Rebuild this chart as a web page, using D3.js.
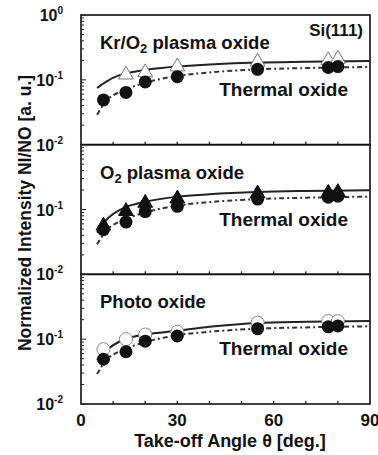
<!DOCTYPE html>
<html><head><meta charset="utf-8">
<script src="https://cdn.jsdelivr.net/npm/d3@7"></script>
<style>
body{margin:0;background:#fff;}
svg text{font-family:"Liberation Sans",Arial,sans-serif;font-weight:bold;fill:#111;}
</style></head>
<body><svg id="c" width="378" height="455"></svg>
<script>
// ---- data ----
const angles = [7, 14, 20, 30, 55, 77, 80];
const thermal = [0.049, 0.064, 0.093, 0.112, 0.145, 0.155, 0.16];
const krPlasma = [null, 0.12, 0.13, 0.16, 0.19, 0.2, 0.21];
const o2Plasma = [0.056, 0.094, 0.126, 0.147, 0.176, 0.18, 0.185];
const photo = [0.07, 0.1, 0.118, 0.13, 0.18, 0.19, 0.19];
const fitAngles = [5, 8, 12, 16, 20, 30, 40, 55, 70, 90];
const fitThermal = [0.029, 0.048, 0.065, 0.078, 0.09, 0.115, 0.13, 0.145, 0.152, 0.158];
const fitKr = [0.075, 0.095, 0.118, 0.132, 0.142, 0.16, 0.172, 0.185, 0.19, 0.195];
const fitO2 = [0.044, 0.07, 0.098, 0.118, 0.132, 0.158, 0.172, 0.186, 0.193, 0.198];
const fitPhoto = [0.048, 0.068, 0.092, 0.108, 0.118, 0.135, 0.155, 0.178, 0.185, 0.19];
const xTicks = [0, 30, 60, 90];
const yTickExp = [0, -1, -2];
const panels = [
  {label: "Kr/O", sub: "2", rest: " plasma oxide", series: krPlasma, fit: fitKr, marker: "openTri"},
  {label: "O", sub: "2", rest: " plasma oxide", series: o2Plasma, fit: fitO2, marker: "fillTri"},
  {label: "Photo oxide", sub: "", rest: "", series: photo, fit: fitPhoto, marker: "openCirc"}
];

const svg = d3.select("#c");
const L = 81, R = 370, T = 15, B = 404;
const ph = (B - T) / 3;
const x = d3.scaleLinear().domain([0, 90]).range([L, R]);

panels.forEach((p, i) => {
  const top = T + i * ph, bot = top + ph;
  const y = d3.scaleLog().domain([0.01, 1]).range([bot, top]);
  const g = svg.append("g");
  g.append("rect").attr("x", L).attr("y", top).attr("width", R - L).attr("height", ph)
    .attr("fill", "none").attr("stroke", "#111").attr("stroke-width", 1.6);
  const yt = [];
  for (let e = -2; e < 0; e++) for (let m = 1; m < 10; m++) yt.push(m * Math.pow(10, e));
  yt.push(1);
  g.selectAll(".yt").data(yt).enter().append("line")
    .attr("x1", L).attr("x2", d => (Math.abs(Math.log10(d) - Math.round(Math.log10(d))) < 1e-6) ? L + 5 : L + 3)
    .attr("y1", d => y(d)).attr("y2", d => y(d)).attr("stroke", "#222").attr("stroke-width", 1);
  g.selectAll(".xt").data(d3.range(10, 90, 10)).enter().append("line")
    .attr("x1", d => x(d)).attr("x2", d => x(d)).attr("y1", bot).attr("y2", bot - 3)
    .attr("stroke", "#222").attr("stroke-width", 1.3);
  const exps = i === 0 ? yTickExp : yTickExp.slice(1);
  exps.forEach(e => {
    const t = g.append("text").attr("x", 63).attr("y", y(Math.pow(10, e)) + 6)
      .attr("text-anchor", "end").attr("font-size", 16);
    t.append("tspan").text("10");
    t.append("tspan").attr("dy", -7).attr("font-size", 10).text(e === 0 ? "0" : "-" + (-e));
  });
  const line = d3.line().x((d, k) => x(fitAngles[k])).y(d => y(d)).curve(d3.curveMonotoneX);
  g.append("path").datum(fitThermal).attr("d", line).attr("fill", "none")
    .attr("stroke", "#333").attr("stroke-width", 2).attr("stroke-dasharray", "5,3,2,3");
  g.append("path").datum(p.fit).attr("d", line).attr("fill", "none")
    .attr("stroke", "#222").attr("stroke-width", 2);
  const pts = angles.map((a, k) => ({a, v: p.series[k]})).filter(d => d.v != null);
  const tri = d3.symbol().type(d3.symbolTriangle).size(95);
  if (p.marker === "openCirc") {
    g.selectAll(".oc").data(pts).enter().append("circle")
      .attr("cx", d => x(d.a)).attr("cy", d => y(d.v)).attr("r", 6.5)
      .attr("fill", "#fff").attr("stroke", "#888").attr("stroke-width", 1);
  } else {
    g.selectAll(".tr").data(pts).enter().append("path").attr("d", tri)
      .attr("transform", d => `translate(${x(d.a)},${y(d.v)})`)
      .attr("fill", p.marker === "fillTri" ? "#111" : "#fff")
      .attr("stroke", p.marker === "fillTri" ? "#111" : "#777").attr("stroke-width", 1);
  }
  const th = angles.map((a, k) => ({a, v: thermal[k]}));
  g.selectAll(".fc").data(th).enter().append("circle")
    .attr("cx", d => x(d.a)).attr("cy", d => y(d.v)).attr("r", 6.5).attr("fill", "#111");
  const lt = g.append("text").attr("x", 100).attr("y", top + 34).attr("font-size", 18.5);
  lt.append("tspan").text(p.label);
  if (p.sub) {
    lt.append("tspan").attr("dy", 4).attr("font-size", 13).text(p.sub);
    lt.append("tspan").attr("dy", -4).text(p.rest);
  }
  g.append("text").attr("x", 348).attr("y", top + 81).attr("text-anchor", "end")
    .attr("font-size", 19).text("Thermal oxide");
  if (i === 0) g.append("text").attr("x", 363).attr("y", top + 21).attr("text-anchor", "end")
    .attr("font-size", 17).text("Si(111)");
  if (i === 2) {
    g.selectAll(".xl").data(xTicks).enter().append("text")
      .attr("x", d => x(d)).attr("y", bot + 22).attr("text-anchor", "middle")
      .attr("font-size", 17).text(d => d);
  }
});
svg.append("text").attr("x", 230).attr("y", 447).attr("text-anchor", "middle")
  .attr("font-size", 18).text("Take-off Angle θ  [deg.]");
svg.append("text").attr("transform", "translate(31,213) rotate(-90)").attr("text-anchor", "middle")
  .attr("font-size", 17.5).text("Normalized Intensity  NI/NO [a. u.]");
</script></body></html>
